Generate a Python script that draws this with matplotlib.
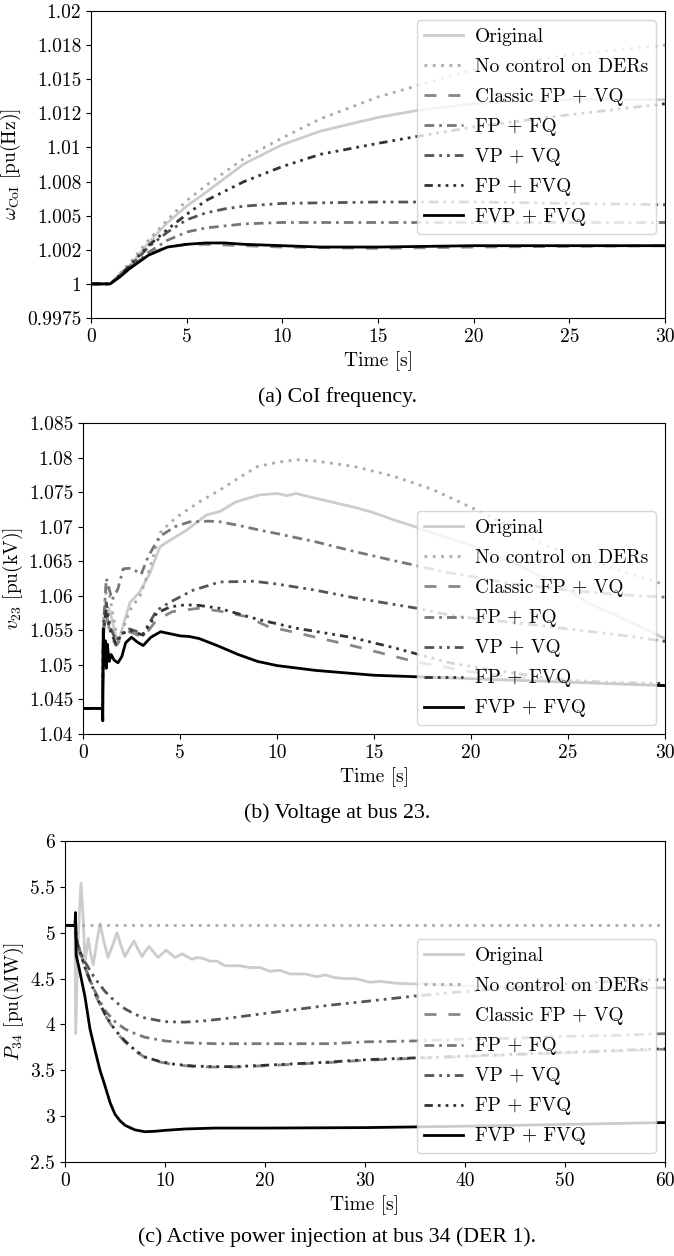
import matplotlib
matplotlib.use("Agg")
import matplotlib.pyplot as plt

plt.rcParams['font.family'] = ['cmr10']
plt.rcParams['mathtext.fontset'] = 'cm'
plt.rcParams['axes.unicode_minus'] = False
plt.rcParams['axes.formatter.use_mathtext'] = True

labels = ["Original", "No control on DERs", "Classic FP + VQ", "FP + FQ",
          "VP + VQ", "FP + FVQ", "FVP + FVQ"]
colors = ['#cccccc', '#aaaaaa', '#888888', '#777777', '#555555', '#333333', '#000000']
styles = ['-', (0, (1, 2)), (0, (4.3, 4.3)), (0, (3.5, 1.8, 1, 1.8)),
          (0, (3.5, 1.8, 1, 1.8, 1, 1.8)), (0, (3, 1.8, 1, 1.8, 1, 1.8, 1, 1.8)), '-']

# ---------------- Panel (a): CoI frequency ----------------
a_orig_t = [0, 1, 2, 3, 4, 5, 6, 8, 10, 12, 15, 17, 20, 22, 25, 30]
a_orig_v = [1.0, 1.0, 1.0013, 1.0030, 1.0045, 1.0057, 1.0067, 1.0088, 1.0102, 1.0112,
            1.0122, 1.0127, 1.0132, 1.0134, 1.0135, 1.0135]
a_noc_t = [0, 1, 2, 3, 4, 5, 6, 8, 10, 12, 15, 20, 25, 30]
a_noc_v = [1.0, 1.0, 1.0015, 1.0032, 1.0047, 1.0061, 1.0072, 1.0092, 1.0107, 1.0121,
           1.0137, 1.0157, 1.0168, 1.0175]
a_cls_t = [0, 1, 1.5, 2, 3, 4, 5, 6, 8, 10, 15, 20, 30]
a_cls_v = [1.0, 1.0, 1.0006, 1.0012, 1.0022, 1.0027, 1.0029, 1.0029, 1.0028, 1.0027,
           1.0026, 1.0027, 1.0028]
a_fpfq_t = [0, 1, 2, 3, 4, 5, 6, 8, 10, 15, 20, 30]
a_fpfq_v = [1.0, 1.0, 1.0011, 1.0023, 1.0032, 1.0038, 1.0041, 1.0044, 1.0045, 1.0045,
            1.0045, 1.0045]
a_vpvq_t = [0, 1, 2, 3, 4, 5, 6, 7, 8, 10, 15, 20, 25, 30]
a_vpvq_v = [1.0, 1.0, 1.0012, 1.0027, 1.0038, 1.0047, 1.0052, 1.0055, 1.0057, 1.0059,
            1.0060, 1.0060, 1.0059, 1.0058]
a_fpfvq_t = [0, 1, 2, 3, 4, 5, 6, 8, 10, 12, 15, 17, 20, 25, 30]
a_fpfvq_v = [1.0, 1.0, 1.0013, 1.0028, 1.0040, 1.0051, 1.0061, 1.0075, 1.0086, 1.0095,
             1.0103, 1.0108, 1.0115, 1.0124, 1.0132]
a_fvp_t = [0, 1, 1.5, 2, 2.5, 3, 3.5, 4, 5, 6, 7, 8, 10, 12, 15, 20, 30]
a_fvp_v = [1.0, 1.0, 1.0005, 1.0011, 1.0016, 1.0021, 1.0024, 1.0027, 1.0029, 1.0030,
           1.0030, 1.0029, 1.0028, 1.0027, 1.0027, 1.0028, 1.0028]
a_yticks = [0.9975, 1.0, 1.0025, 1.005, 1.0075, 1.01, 1.0125, 1.015, 1.0175, 1.02]
a_yticklabels = ['0.9975', '1', '1.002', '1.005', '1.008', '1.01', '1.012', '1.015', '1.018', '1.02']
a_xticks = [0, 5, 10, 15, 20, 25, 30]

# ---------------- Panel (b): Voltage at bus 23 ----------------
b_orig_t = [0, 1.0, 1.05, 1.15, 1.34, 1.5, 1.8, 2.1, 2.42, 2.94, 3.45, 3.97, 4.64, 5.34,
            6.37, 7.06, 7.9, 9.1, 10, 10.5, 11, 12, 14, 15, 16, 17, 18, 20, 22, 24, 25,
            26, 28, 30]
b_orig_v = [1.0437, 1.0437, 1.0555, 1.0570, 1.0582, 1.0565, 1.0530, 1.0560, 1.0590, 1.0606,
            1.0633, 1.0671, 1.0683, 1.0695, 1.0717, 1.0722, 1.0736, 1.0746, 1.0748, 1.0745,
            1.0748, 1.0741, 1.0728, 1.0720, 1.0710, 1.0701, 1.0691, 1.0673, 1.0650, 1.0623,
            1.0609, 1.0590, 1.0565, 1.0538]
b_noc_t = [0, 1.0, 1.05, 1.15, 1.29, 1.5, 1.8, 2.1, 2.42, 2.94, 3.45, 3.97, 4.5, 5, 6,
           7.06, 8, 9, 10, 11, 12, 14, 16, 18, 20, 22, 24, 26, 28, 30]
b_noc_v = [1.0437, 1.0437, 1.0560, 1.0600, 1.0613, 1.0580, 1.0532, 1.0555, 1.0579, 1.0600,
           1.0640, 1.0691, 1.0706, 1.0717, 1.0736, 1.0753, 1.0770, 1.0787, 1.0793, 1.0797,
           1.0795, 1.0787, 1.0773, 1.0754, 1.0728, 1.0700, 1.0671, 1.0652, 1.0633, 1.0616]
b_cls_t = [0, 1.0, 1.05, 1.2, 1.4, 1.7, 2.0, 2.4, 3.1, 3.8, 4.6, 6, 7, 8.4, 9.5, 12, 14,
           17.2, 20, 23, 25, 30]
b_cls_v = [1.0437, 1.0437, 1.0545, 1.0575, 1.0545, 1.0528, 1.0540, 1.0548, 1.0540, 1.0565,
           1.0577, 1.0582, 1.0578, 1.0570, 1.0556, 1.0540, 1.0527, 1.0504, 1.0490, 1.0480,
           1.0476, 1.0470]
b_fpfq_t = [0, 1.0, 1.05, 1.2, 1.35, 1.5, 1.8, 2.07, 2.5, 3.0, 3.36, 3.97, 4.74, 5.5, 6.5,
            7.06, 8, 9.1, 10, 12, 14, 16, 18.9, 20, 22, 25, 28, 30]
b_fpfq_v = [1.0437, 1.0437, 1.0555, 1.0625, 1.0610, 1.0594, 1.0610, 1.0639, 1.0640, 1.0631,
            1.0657, 1.0686, 1.0700, 1.0707, 1.0708, 1.0707, 1.0702, 1.0695, 1.0690, 1.0678,
            1.0664, 1.0651, 1.0633, 1.0628, 1.0618, 1.0608, 1.0601, 1.0598]
b_vpvq_t = [0, 1.0, 1.05, 1.2, 1.4, 1.7, 2.0, 2.4, 3.1, 3.8, 4.5, 5.67, 7.06, 8.8, 10, 12,
            14, 17.2, 18.9, 20, 22, 25, 28, 30]
b_vpvq_v = [1.0437, 1.0437, 1.0560, 1.0590, 1.0555, 1.0535, 1.0545, 1.0552, 1.0545, 1.0579,
            1.0591, 1.0608, 1.0620, 1.0621, 1.0617, 1.0608, 1.0597, 1.0582, 1.0572, 1.0568,
            1.0562, 1.0552, 1.0542, 1.0534]
b_fpfvq_t = [0, 1.0, 1.05, 1.2, 1.4, 1.7, 2.0, 2.4, 3.1, 3.8, 4.5, 5.3, 6, 7, 9, 11, 13.8,
             16, 18.9, 21, 23, 25, 27, 30]
b_fpfvq_v = [1.0437, 1.0437, 1.0550, 1.0580, 1.0550, 1.0530, 1.0545, 1.0550, 1.0543, 1.0575,
             1.0584, 1.0587, 1.0586, 1.0582, 1.0566, 1.0553, 1.0540, 1.0525, 1.0503, 1.0493,
             1.0485, 1.0478, 1.0475, 1.0473]
b_fvp_t = [0, 1.0, 1.02, 1.05, 1.1, 1.15, 1.2, 1.25, 1.35, 1.45, 1.6, 1.8, 2.0, 2.2, 2.5,
           2.8, 3.1, 3.5, 4.0, 4.5, 5, 5.5, 6, 7, 8, 9, 10, 12, 15, 20, 25, 30]
b_fvp_v = [1.0437, 1.0437, 1.0419, 1.0552, 1.0500, 1.0535, 1.0495, 1.0530, 1.0505, 1.0515,
           1.0507, 1.0503, 1.0512, 1.0532, 1.0540, 1.0533, 1.0528, 1.0540, 1.0548, 1.0545,
           1.0542, 1.0541, 1.0538, 1.0527, 1.0515, 1.0505, 1.0499, 1.0492, 1.0485, 1.0480,
           1.0475, 1.0470]
b_yticks = [1.04, 1.045, 1.05, 1.055, 1.06, 1.065, 1.07, 1.075, 1.08, 1.085]
b_yticklabels = ['1.04', '1.045', '1.05', '1.055', '1.06', '1.065', '1.07', '1.075', '1.08', '1.085']
b_xticks = [0, 5, 10, 15, 20, 25, 30]

# ---------------- Panel (c): Active power at bus 34 ----------------
c_orig_t = [0, 1.0, 1.07, 1.3, 1.6, 1.8, 2.0, 2.15, 2.33, 2.55, 2.83, 3.15, 3.5, 3.9, 4.3,
            4.75, 5.2, 5.6, 6.0, 6.45, 6.9, 7.3, 7.7, 8.05, 8.4, 8.85, 9.3, 9.7, 10.1,
            10.55, 11.0, 11.35, 11.7, 12.2, 12.7, 13.25, 13.8, 14.5, 15.2, 16, 17.5, 18.5,
            19.5, 20.5, 21.5, 22.5, 24, 25.2, 26, 27, 28, 29, 30.5, 31.5, 33, 35, 36, 37.5,
            40, 42, 45, 50, 55, 60]
c_orig_v = [5.08, 5.08, 3.90, 4.90, 5.54, 5.20, 4.70, 4.80, 4.94, 4.78, 4.65, 4.88, 5.10,
            4.90, 4.73, 4.86, 5.00, 4.86, 4.74, 4.83, 4.91, 4.82, 4.74, 4.80, 4.85, 4.79,
            4.73, 4.77, 4.81, 4.77, 4.73, 4.75, 4.77, 4.74, 4.71, 4.73, 4.72, 4.69, 4.69,
            4.64, 4.64, 4.62, 4.62, 4.58, 4.59, 4.55, 4.55, 4.52, 4.54, 4.51, 4.50, 4.50,
            4.46, 4.47, 4.45, 4.44, 4.45, 4.43, 4.42, 4.41, 4.41, 4.40, 4.40, 4.40]
c_noc_t = [0, 60]
c_noc_v = [5.08, 5.08]
c_cls_t = [0, 1.0, 1.05, 1.1, 1.5, 2, 3, 4, 5, 6, 7, 8, 9.5, 11, 13, 15, 17, 20, 26.5, 30,
           35, 40, 45, 50, 55, 60]
c_cls_v = [5.08, 5.08, 5.15, 4.92, 4.80, 4.62, 4.33, 4.10, 3.93, 3.81, 3.71, 3.64, 3.59,
           3.56, 3.54, 3.535, 3.535, 3.55, 3.585, 3.61, 3.63, 3.65, 3.67, 3.69, 3.71, 3.73]
c_fpfq_t = [0, 1.0, 1.05, 1.1, 1.5, 2, 3, 4, 5, 6, 7, 8, 10, 12, 15, 20, 26.5, 30, 35, 40,
            45, 50, 55, 60]
c_fpfq_v = [5.08, 5.08, 5.15, 4.95, 4.78, 4.62, 4.36, 4.15, 4.03, 3.95, 3.90, 3.86, 3.82,
            3.80, 3.79, 3.79, 3.79, 3.81, 3.82, 3.84, 3.85, 3.87, 3.88, 3.90]
c_vpvq_t = [0, 1.0, 1.05, 1.1, 1.5, 2, 3, 4, 5, 6, 7, 8, 10, 12, 14, 16.5, 20, 26.5, 30, 35,
            40, 45, 50, 55, 60]
c_vpvq_v = [5.08, 5.08, 5.15, 4.95, 4.80, 4.68, 4.50, 4.36, 4.25, 4.17, 4.11, 4.07, 4.03,
            4.025, 4.04, 4.07, 4.12, 4.21, 4.25, 4.31, 4.36, 4.40, 4.44, 4.47, 4.49]
c_fpfvq_t = [0, 1.0, 1.05, 1.1, 1.5, 2, 3, 4, 5, 6, 7, 8, 9.5, 11, 13, 15, 17, 20, 26.5, 30,
             35, 40, 45, 50, 55, 60]
c_fpfvq_v = [5.08, 5.08, 5.15, 4.93, 4.80, 4.62, 4.34, 4.11, 3.94, 3.82, 3.72, 3.645, 3.595,
             3.565, 3.545, 3.54, 3.54, 3.555, 3.59, 3.615, 3.635, 3.655, 3.675, 3.695, 3.715,
             3.735]
c_fvp_t = [0, 1.0, 1.05, 1.12, 1.4, 2.0, 2.5, 3.0, 3.5, 4.0, 4.5, 5.0, 5.5, 6.0, 7.0, 8.0,
           9, 10, 12, 15, 20, 30, 40, 50, 60]
c_fvp_v = [5.08, 5.08, 5.22, 4.75, 4.62, 4.30, 3.95, 3.72, 3.50, 3.33, 3.15, 3.02, 2.95,
           2.90, 2.85, 2.83, 2.835, 2.845, 2.86, 2.87, 2.87, 2.875, 2.89, 2.91, 2.93]
c_yticks = [2.5, 3, 3.5, 4, 4.5, 5, 5.5, 6]
c_yticklabels = ['2.5', '3', '3.5', '4', '4.5', '5', '5.5', '6']
c_xticks = [0, 10, 20, 30, 40, 50, 60]

FS = 14
W, H = 674, 1256
fig = plt.figure(figsize=(W / 100, H / 100), dpi=100)


def make_axes(left, right, top, bottom):
    return fig.add_axes([left / W, 1 - bottom / H, (right - left) / W, (bottom - top) / H])


panels = [
    dict(ax=make_axes(91, 665, 11, 318),
         series=[(a_orig_t, a_orig_v), (a_noc_t, a_noc_v), (a_cls_t, a_cls_v),
                 (a_fpfq_t, a_fpfq_v), (a_vpvq_t, a_vpvq_v), (a_fpfvq_t, a_fpfvq_v),
                 (a_fvp_t, a_fvp_v)],
         xlim=(0, 30), ylim=(0.9975, 1.02), xticks=a_xticks, yticks=a_yticks,
         yticklabels=a_yticklabels, ylabel=r'$\omega_{\mathrm{CoI}}$ [pu(Hz)]',
         loc='upper right', caption='(a) CoI frequency.', cap_y=397),
    dict(ax=make_axes(83, 665, 423, 734),
         series=[(b_orig_t, b_orig_v), (b_noc_t, b_noc_v), (b_cls_t, b_cls_v),
                 (b_fpfq_t, b_fpfq_v), (b_vpvq_t, b_vpvq_v), (b_fpfvq_t, b_fpfvq_v),
                 (b_fvp_t, b_fvp_v)],
         xlim=(0, 30), ylim=(1.04, 1.085), xticks=b_xticks, yticks=b_yticks,
         yticklabels=b_yticklabels, ylabel=r'$v_{23}$ [pu(kV)]',
         loc='lower right', caption='(b) Voltage at bus 23.', cap_y=813),
    dict(ax=make_axes(65, 665, 841, 1162),
         series=[(c_orig_t, c_orig_v), (c_noc_t, c_noc_v), (c_cls_t, c_cls_v),
                 (c_fpfq_t, c_fpfq_v), (c_vpvq_t, c_vpvq_v), (c_fpfvq_t, c_fpfvq_v),
                 (c_fvp_t, c_fvp_v)],
         xlim=(0, 60), ylim=(2.5, 6), xticks=c_xticks, yticks=c_yticks,
         yticklabels=c_yticklabels, ylabel=r'$P_{34}$ [pu(MW)]',
         loc='lower right', caption='(c) Active power injection at bus 34 (DER 1).', cap_y=1237),
]

for p in panels:
    ax = p['ax']
    for (t, v), lab, col, ls in zip(p['series'], labels, colors, styles):
        ax.plot(t, v, color=col, linestyle=ls, linewidth=2, label=lab)
    ax.set_xlim(*p['xlim'])
    ax.set_ylim(*p['ylim'])
    ax.set_xticks(p['xticks'])
    ax.set_xticklabels([str(x) for x in p['xticks']])
    ax.set_yticks(p['yticks'])
    ax.set_yticklabels(p['yticklabels'])
    ax.tick_params(labelsize=FS)
    ax.set_xlabel('Time [s]', fontsize=FS)
    ax.set_ylabel(p['ylabel'], fontsize=FS, labelpad=3)
    ax.legend(loc=p['loc'], fontsize=FS, labelspacing=0.62, borderaxespad=0.45,
              handlelength=2.0, handletextpad=0.62)
    fig.text(0.5, 1 - p['cap_y'] / H, p['caption'], ha='center', va='center',
             fontsize=15.7, family='Liberation Serif')

fig.savefig('out.png', dpi=100)
